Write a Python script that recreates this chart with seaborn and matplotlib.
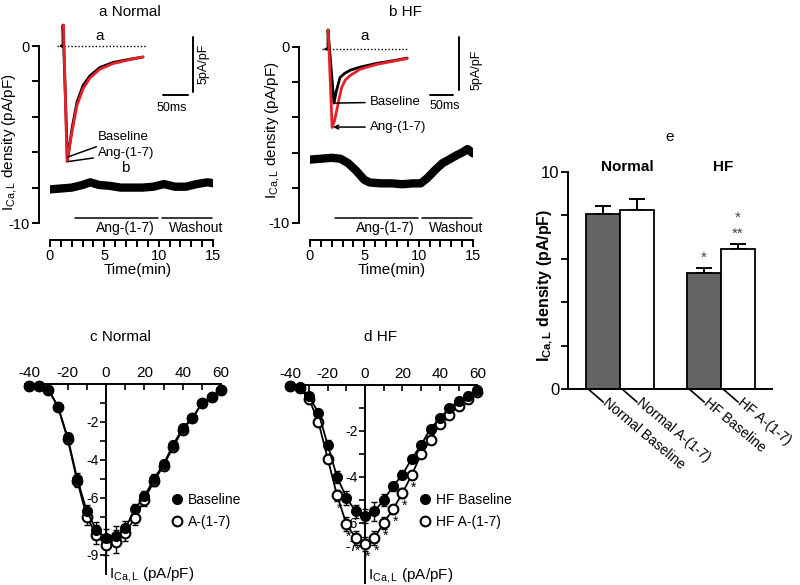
import matplotlib
matplotlib.use("Agg")
import matplotlib.pyplot as plt
import seaborn as sns
import pandas as pd
from matplotlib.lines import Line2D
from matplotlib.ticker import MultipleLocator, FixedLocator

sns.set_style("ticks")
plt.rcParams['font.family'] = ['Liberation Sans', 'DejaVu Sans']
plt.rcParams['mathtext.fontset'] = 'custom'
plt.rcParams['mathtext.rm'] = 'Liberation Sans'
plt.rcParams['mathtext.it'] = 'Liberation Sans:italic'
plt.rcParams['mathtext.bf'] = 'Liberation Sans:bold'
plt.rcParams['axes.linewidth'] = 1.4
plt.rcParams['axes.edgecolor'] = 'black'
plt.rcParams['text.color'] = 'black'
plt.rcParams['xtick.color'] = 'black'
plt.rcParams['ytick.color'] = 'black'
plt.rcParams['axes.unicode_minus'] = False

# ---------------- data ----------------
# panel a/b: ICa,L density time course (min, pA/pF)
time_normal = [0, 1, 2, 3, 3.7, 4.5, 5.5, 6.5, 7.5, 8.5, 9.5, 10.5, 11.5, 12.5, 13.5, 14.5, 15]
icat_normal = [-8.1, -8.05, -8.0, -7.85, -7.7, -7.85, -7.9, -8.0, -8.0, -8.0, -7.95, -7.8, -7.95, -7.95,
               -7.8, -7.7, -7.75]
time_hf = [0, 1, 2, 2.8, 3.5, 4.2, 5.0, 5.5, 6.5, 7.5, 8.5, 9.5, 10.2, 10.8, 11.5, 12.2, 12.8, 13.5, 14.0,
           14.5, 15]
icat_hf = [-6.4, -6.35, -6.3, -6.35, -6.6, -7.0, -7.55, -7.7, -7.75, -7.75, -7.8, -7.75, -7.75, -7.45,
           -7.0, -6.6, -6.4, -6.15, -6.0, -5.8, -6.05]
protocol_labels = ["Ang-(1-7)", "Washout"]
protocol_start = [2.3, 10.35]
protocol_end = [9.95, 14.9]

# insets: current traces (ms, pA/pF)
ins_n_base_t = [-4, 0, 0, 9, 18, 28, 40, 54, 74, 100, 128, 160]
ins_n_base_i = [0, 0, 1.9, -10.4, -7.5, -5.1, -3.6, -2.7, -1.95, -1.5, -1.25, -1.0]
ins_n_ang_t = [1, 8, 18, 28, 40, 54, 74, 100, 128, 160]
ins_n_ang_i = [1.9, -10.5, -7.8, -5.4, -3.9, -2.9, -2.1, -1.6, -1.3, -1.0]
ins_h_base_t = [-5, 0, 0, 13, 18, 26, 36, 48, 70, 106, 142, 172]
ins_h_base_i = [0, 0, 1.8, -5.1, -4.0, -2.7, -2.3, -2.0, -1.7, -1.35, -1.1, -0.85]
ins_h_ang_t = [0.5, 9, 14, 19, 25, 30, 38, 48, 70, 106, 142, 172]
ins_h_ang_i = [1.8, -7.4, -6.8, -5.8, -4.5, -3.6, -2.9, -2.5, -1.9, -1.45, -1.15, -0.9]

# panels c/d: I-V relationship
voltages = [-40, -35, -30, -25, -20, -15, -10, -5, 0, 5, 10, 15, 20, 25, 30, 35, 40, 45, 50, 55, 60]
normal_base = [-0.1, -0.1, -0.3, -1.2, -2.8, -5.0, -6.7, -7.7, -8.1, -8.0, -7.6, -6.6, -5.9, -5.0, -4.2,
               -3.2, -2.3, -1.8, -1.0, -0.7, -0.3]
normal_ang = [-0.1, -0.1, -0.3, -1.2, -2.9, -5.1, -7.0, -7.95, -8.5, -8.3, -7.85, -7.05, -6.1, -5.1, -4.3,
              -3.3, -2.4, -1.8, -1.0, -0.7, -0.3]
normal_base_err = [0.05, 0.05, 0.1, 0.15, 0.2, 0.3, 0.35, 0.45, 0.45, 0.5, 0.4, 0.3, 0.25, 0.25, 0.2, 0.2,
                   0.15, 0.1, 0.1, 0.08, 0.05]
normal_ang_err = [0.05, 0.05, 0.1, 0.15, 0.25, 0.3, 0.4, 0.5, 0.5, 0.6, 0.4, 0.35, 0.3, 0.25, 0.2, 0.2,
                  0.15, 0.1, 0.1, 0.08, 0.05]
hf_base = [-0.05, -0.1, -0.5, -1.2, -2.6, -4.0, -4.9, -5.5, -5.7, -5.5, -5.0, -4.4, -3.9, -3.2, -2.6, -1.9,
           -1.45, -1.0, -0.7, -0.5, -0.2]
hf_ang = [-0.05, -0.15, -0.6, -1.6, -3.2, -4.8, -6.05, -6.65, -6.9, -6.65, -6.0, -5.4, -4.7, -3.9, -3.0,
          -2.4, -1.7, -1.3, -0.9, -0.6, -0.3]
hf_base_err = [0.05, 0.05, 0.1, 0.15, 0.2, 0.25, 0.3, 0.3, 0.3, 0.4, 0.25, 0.2, 0.2, 0.15, 0.15, 0.1, 0.1,
               0.1, 0.1, 0.05, 0.05]
hf_ang_err = [0.05, 0.05, 0.1, 0.15, 0.2, 0.25, 0.3, 0.3, 0.3, 0.3, 0.25, 0.2, 0.2, 0.15, 0.15, 0.1, 0.1,
              0.1, 0.1, 0.05, 0.05]
hf_sig_voltages = [-15, -10, -5, 0, 5, 10, 15, 20, 25]

# panel e: bar summary
bar_groups = ["Normal", "Normal", "HF", "HF"]
bar_treatments = ["Baseline", "A-(1-7)", "Baseline", "A-(1-7)"]
bar_values = [8.06, 8.25, 5.35, 6.45]
bar_errors = [0.37, 0.5, 0.23, 0.23]
bar_labels = ["Normal Baseline", "Normal A-(1-7)", "HF Baseline", "HF A-(1-7)"]
bar_sig_vs_normal = ["", "", "*", "*"]
bar_sig_vs_hf = ["", "", "", "**"]

# ---------------- figure ----------------
W, H = 800.0, 585.0
fig = plt.figure(figsize=(8, 5.85), dpi=100)
fig.patch.set_facecolor('white')


def px_axes(x0, y0, x1, y1):
    return fig.add_axes([x0 / W, 1 - y1 / H, (x1 - x0) / W, (y1 - y0) / H])


def ftext(x, y, s, **kw):
    return fig.text(x / W, 1 - y / H, s, **kw)


RED = '#e8202a'
ylab_trace = r'I$_{\mathregular{Ca,L}}$ density (pA/pF)'


def trace_panel(box, ylim, t, cur, title, title_x, ylab_xy, xlab_x):
    ax = px_axes(*box)
    sns.lineplot(x=t, y=cur, ax=ax, color='black', linewidth=6, estimator=None, sort=False,
                 solid_capstyle='round', solid_joinstyle='round')
    ax.set_xlim(0, 15)
    ax.set_ylim(*ylim)
    ax.patch.set_alpha(0)
    for s in ['top', 'right']:
        ax.spines[s].set_visible(False)
    ax.spines['left'].set_position(('outward', 8))
    ax.spines['left'].set_bounds(-10, 0)
    ax.spines['bottom'].set_bounds(0, 15)
    ax.yaxis.set_major_locator(FixedLocator([-10, 0]))
    ax.yaxis.set_minor_locator(FixedLocator([-8, -6, -4, -2]))
    ax.xaxis.set_major_locator(MultipleLocator(5))
    ax.xaxis.set_minor_locator(MultipleLocator(1))
    ax.tick_params(which='both', direction='out', length=5, width=1.4, labelsize=10.5, pad=1.5)
    ax.set_xlabel('')
    ax.set_ylabel('')
    for lab, s, e in zip(protocol_labels, protocol_start, protocol_end):
        ax.plot([s, e], [-9.7, -9.7], color='black', lw=1.1)
        ax.text((s + e) / 2 + 0.8, -10.3, lab, ha='center', va='center', fontsize=10)
    ftext(title_x, 12, title, ha='center', va='center', fontsize=11)
    ftext(ylab_xy[0], ylab_xy[1], ylab_trace, rotation=90, ha='center', va='center', fontsize=11)
    ftext(xlab_x, 270, 'Time(min)', ha='center', va='center', fontsize=11)
    return ax


def inset(box, xlim, ylim, bt, bi, rt, ri, base_x, vbar, hbar, vlab, hlab, alab):
    ax = px_axes(*box)
    ax.set_xlim(*xlim)
    ax.set_ylim(*ylim)
    ax.axis('off')
    ax.plot(base_x, [0, 0], ls=(0, (1, 1.5)), color='black', lw=1)
    sns.lineplot(x=bt, y=bi, ax=ax, color='black', lw=2, estimator=None, sort=False)
    sns.lineplot(x=rt, y=ri, ax=ax, color=RED, lw=2, estimator=None, sort=False)
    ax.plot(vbar[0], vbar[1], color='black', lw=1.4)
    ax.plot(hbar[0], hbar[1], color='black', lw=1.4)
    ax.text(vlab[0], vlab[1], '5pA/pF', rotation=90, ha='center', va='center', fontsize=9)
    ax.text(hlab[0], hlab[1], '50ms', ha='center', va='center', fontsize=9)
    ax.text(alab[0], alab[1], 'a', ha='center', va='center', fontsize=11)
    return ax


# panel a
ax_a = trace_panel((50, 46, 213, 240), (-10.96, 0), time_normal, icat_normal, 'a Normal', 130,
                   (10, 142), 138)
ax_a.text(6.9, -6.9, 'b', ha='center', va='center', fontsize=11)
ins_a = inset((50, 20, 215, 170), (-26, 304), (-11.27, 2.36), ins_n_base_t, ins_n_base_i,
              ins_n_ang_t, ins_n_ang_i, [-12, 168], ([260, 260], [0.82, -4.18]),
              ([200, 250], [-4.45, -4.45]), (282, -1.6), (218, -5.6), (74, 0.9))
ins_a.annotate('Baseline', xy=(9, -10.1), xytext=(70, -8.27), ha='left', va='center', fontsize=9.5,
               arrowprops=dict(arrowstyle='-', lw=1.1, color='black', shrinkA=1, shrinkB=0))
ins_a.annotate('Ang-(1-7)', xy=(11, -10.5), xytext=(70, -9.75), ha='left', va='center', fontsize=9.5,
               arrowprops=dict(arrowstyle='-', lw=1.1, color='black', shrinkA=1, shrinkB=0))

# panel b
ax_b = trace_panel((310, 47, 473, 240), (-10.97, 0), time_hf, icat_hf, 'b HF', 405, (273, 130), 392)
ins_b = inset((310, 20, 482, 140), (-39.1, 334.8), (-8.58, 2.74), ins_h_base_t, ins_h_base_i,
              ins_h_ang_t, ins_h_ang_i, [-13, 174], ([285, 285], [1.13, -3.87]),
              ([222, 272], [-4.34, -4.34]), (322, -2.0), (254, -5.4), (80, 1.2))
ins_b.annotate('Baseline', xy=(15, -5.1), xytext=(91, -5.0), ha='left', va='center', fontsize=9.5,
               arrowprops=dict(arrowstyle='-', lw=1.1, color='black', shrinkA=1, shrinkB=0))
ins_b.annotate('Ang-(1-7)', xy=(11, -7.36), xytext=(91, -7.36), ha='left', va='center', fontsize=9.5,
               arrowprops=dict(arrowstyle='->', lw=1.1, color='black', shrinkA=1, shrinkB=0,
                               mutation_scale=7))


# IV panels
def iv_panel(box, xlim, ylim, base, ang, berr, aerr, ylabels, yminor, ybottom, title, title_x,
             legend_labels, legend_xy, ylab_y, sig=None):
    ax = px_axes(*box)
    ax.patch.set_alpha(0)
    ax.errorbar(voltages, ang, yerr=aerr, fmt='none', ecolor='black', elinewidth=1, capsize=2.5,
                capthick=1, zorder=2)
    ax.errorbar(voltages, base, yerr=berr, fmt='none', ecolor='black', elinewidth=1, capsize=2.5,
                capthick=1, zorder=2)
    sns.lineplot(x=voltages, y=ang, ax=ax, color='black', lw=1.3, marker='o', markersize=7,
                 markerfacecolor='white', markeredgecolor='black', markeredgewidth=1.5,
                 estimator=None, zorder=3)
    sns.lineplot(x=voltages, y=base, ax=ax, color='black', lw=1.3, marker='o', markersize=7,
                 markerfacecolor='black', markeredgecolor='black', markeredgewidth=1,
                 estimator=None, zorder=4)
    if sig is not None:
        for v, a in zip(voltages, ang):
            if v in sig:
                ax.annotate('*', xy=(v, a), xytext=(2, -13), textcoords='offset pixels',
                            ha='center', va='center', fontsize=10)
    ax.set_xlim(*xlim)
    ax.set_ylim(*ylim)
    ax.set_xlabel('')
    ax.set_ylabel('')
    ax.spines['bottom'].set_visible(False)
    ax.spines['right'].set_visible(False)
    ax.spines['top'].set_position(('data', 0))
    ax.spines['top'].set_bounds(-42, 60)
    ax.spines['left'].set_position(('data', 0))
    ax.spines['left'].set_bounds(ybottom, 0)
    ax.xaxis.set_ticks_position('top')
    ax.xaxis.set_major_locator(MultipleLocator(20))
    ax.xaxis.set_minor_locator(MultipleLocator(10))
    ax.yaxis.set_major_locator(FixedLocator(ylabels))
    ax.yaxis.set_minor_locator(FixedLocator(yminor))
    ax.tick_params(axis='x', which='both', direction='in', length=4, width=1.2, labelsize=11, pad=3,
                   top=True, bottom=False, labeltop=True, labelbottom=False)
    ax.tick_params(axis='y', which='both', direction='out', length=4, width=1.2, labelsize=10, pad=1)
    ax.set_xticklabels([f'{int(v)}' for v in ax.get_xticks()])
    ax.set_yticklabels([f'{int(v)}' for v in ylabels])
    ax.text(1.5, ylab_y, r'I$_{\mathregular{Ca,L}}$ (pA/pF)', ha='left', va='center', fontsize=11)
    ftext(title_x, 337, title, ha='center', va='center', fontsize=11)
    handles = [Line2D([], [], ls='none', marker='o', markersize=7, markerfacecolor='black',
                      markeredgecolor='black'),
               Line2D([], [], ls='none', marker='o', markersize=7, markerfacecolor='white',
                      markeredgecolor='black', markeredgewidth=1.5)]
    ax.legend(handles, legend_labels, loc='upper left',
              bbox_to_anchor=(legend_xy[0] / W, 1 - legend_xy[1] / H), bbox_transform=fig.transFigure,
              frameon=False, handlelength=0.8, handletextpad=0.4, labelspacing=0.55, borderpad=0,
              borderaxespad=0, fontsize=10)
    return ax


iv_panel((20, 376, 232, 580), (-44.8, 65.6), (-10.32, 0.42), normal_base, normal_ang, normal_base_err,
         normal_ang_err, [-2, -4, -6, -9], [-1, -3, -5, -7, -8], -10, 'c Normal', 120,
         ['Baseline', 'A-(1-7)'], (171, 493), -10.05)
iv_panel((280, 376, 490, 585), (-45.5, 66.8), (-8.7, 0.39), hf_base, hf_ang, hf_base_err, hf_ang_err,
         [-2, -4, -6, -7], [-1, -3, -5], -8.6, 'd HF', 380,
         ['HF Baseline', 'HF A-(1-7)'], (419, 493), -8.3, sig=hf_sig_voltages)

# panel e
ax_e = px_axes(568, 172, 772, 389)
df_bar = pd.DataFrame({'group': bar_groups, 'treatment': bar_treatments, 'value': bar_values})
sns.barplot(data=df_bar, x='group', y='value', hue='treatment', order=['Normal', 'HF'],
            hue_order=['Baseline', 'A-(1-7)'], palette=['#636466', 'white'], saturation=1,
            edgecolor='black', linewidth=1.3, width=0.67, errorbar=None, legend=False, ax=ax_e)
ax_e.set_xlim(-0.515, 1.505)
ax_e.set_ylim(0, 10)
ax_e.patch.set_alpha(0)
for s in ['top', 'right']:
    ax_e.spines[s].set_visible(False)
ax_e.yaxis.set_major_locator(FixedLocator([0, 10]))
ax_e.yaxis.set_minor_locator(FixedLocator([2, 4, 6, 8]))
ax_e.tick_params(axis='y', which='both', direction='out', length=5, width=1.3, labelsize=12, pad=1)
ax_e.tick_params(axis='x', length=0, labelbottom=False)
ax_e.set_xlabel('')
ax_e.set_ylabel('')
bars = sorted(ax_e.patches, key=lambda p: p.get_x())
xs = [p.get_x() + p.get_width() / 2 for p in bars]
hs = [p.get_height() for p in bars]
ax_e.errorbar(xs, hs, yerr=[[0] * len(hs), bar_errors], fmt='none', ecolor='black', elinewidth=1.4,
              capsize=6, capthick=1.4, zorder=0)
for x, h, e, s1, s2 in zip(xs, hs, bar_errors, bar_sig_vs_normal, bar_sig_vs_hf):
    y = h + e + 0.15
    for mark in [s2, s1]:
        if mark:
            ax_e.text(x, y, mark, ha='center', va='bottom', fontsize=11, color='#444444')
            y += 0.72
for p, lab in zip(bars, bar_labels):
    x0 = p.get_x() + 0.02
    ax_e.annotate('', xy=(x0, 0), xycoords=('data', 'axes fraction'), xytext=(15, -13),
                  textcoords='offset pixels',
                  arrowprops=dict(arrowstyle='-', lw=1.2, color='black', shrinkA=0, shrinkB=0))
    ax_e.annotate(lab, xy=(x0, 0), xycoords=('data', 'axes fraction'), xytext=(16, -12),
                  textcoords='offset pixels', rotation=-40, rotation_mode='anchor', ha='left',
                  va='center', fontsize=10)
ftext(670, 137, 'e', ha='center', va='center', fontsize=11)
ftext(627, 167, 'Normal', ha='center', va='center', fontsize=11, fontweight='bold')
ftext(723, 167, 'HF', ha='center', va='center', fontsize=11, fontweight='bold')
ftext(545, 285, r'$\mathbf{I}_{\mathbf{Ca,L}}$ density (pA/pF)', rotation=90, ha='center', va='center',
      fontsize=11.5, fontweight='bold')

fig.savefig('out.png', dpi=100, facecolor='white')
